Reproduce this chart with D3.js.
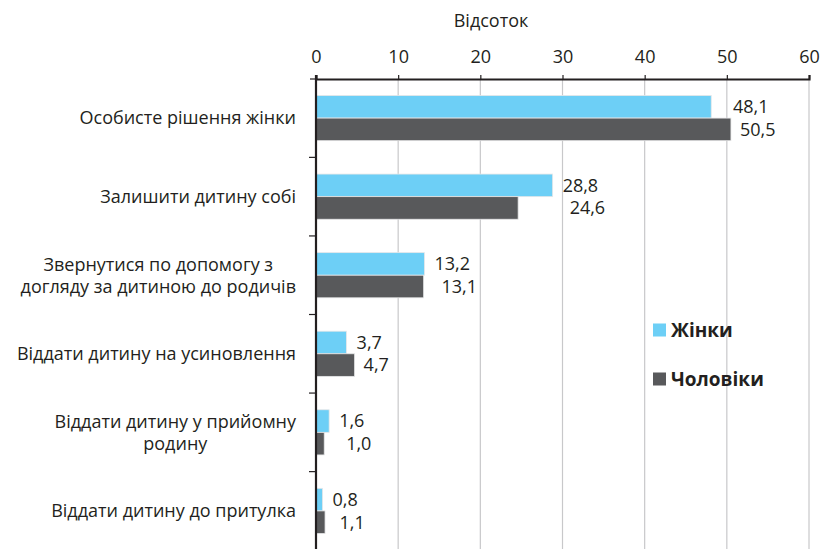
<!DOCTYPE html>
<html>
<head>
<meta charset="utf-8">
<script src="https://cdn.jsdelivr.net/npm/d3@7"></script>
<style>
  body { margin: 0; background: #fff; }
  text { font-family: "Open Sans", sans-serif; fill: #231f20; }
</style>
</head>
<body>
<div id="chart"></div>
<script>
const categories = [
  ["Особисте рішення жінки"],
  ["Залишити дитину собі"],
  ["Звернутися по допомогу з", "догляду за дитиною до родичів"],
  ["Віддати дитину на усиновлення"],
  ["Віддати дитину у прийомну", "родину"],
  ["Віддати дитину до притулка"]
];
const women = [48.1, 28.8, 13.2, 3.7, 1.6, 0.8];
const men = [50.5, 24.6, 13.1, 4.7, 1.0, 1.1];
const seriesNames = ["Жінки", "Чоловіки"];
const xTicks = [0, 10, 20, 30, 40, 50, 60];
const axisTitle = "Відсоток";

const W = 826, H = 549;
const colors = ["#6dcff6", "#58595b"];
const fs = 18;
const fmt = v => v.toFixed(1).replace(".", ",");

const svg = d3.select("#chart").append("svg")
  .attr("width", W).attr("height", H);

const x = d3.scaleLinear().domain([0, 60]).range([316, 809]);
const y = d3.scaleBand().domain(d3.range(categories.length))
  .range([79, 550]).paddingInner(0.425).paddingOuter(0.21);
const step = y.step();

// gridlines
svg.append("g").selectAll("line")
  .data(xTicks.slice(1))
  .join("line")
  .attr("x1", d => x(d)).attr("x2", d => x(d))
  .attr("y1", 79).attr("y2", H)
  .attr("stroke", "#c8c8ca").attr("stroke-width", 1.2);

// top axis
const xAxis = svg.append("g")
  .attr("transform", "translate(0,79)")
  .call(d3.axisTop(x).tickValues(xTicks).tickSize(4).tickPadding(12).tickFormat(d => d));
xAxis.select(".domain").attr("stroke", "#231f20").attr("stroke-width", 2.2);
xAxis.selectAll(".tick line").attr("stroke", "#231f20").attr("stroke-width", 1.2);
xAxis.selectAll(".tick text").attr("font-size", fs).attr("font-family", "Open Sans, sans-serif").attr("fill", "#231f20");

svg.append("text")
  .attr("x", x(21.3)).attr("y", 27)
  .attr("text-anchor", "middle").attr("font-size", fs)
  .text(axisTitle);

// bars
const groups = svg.append("g").selectAll("g")
  .data(categories.map((c, i) => ({ i, vals: [women[i], men[i]] })))
  .join("g");

const barH = y.bandwidth() / 2;
groups.selectAll("rect")
  .data(d => d.vals.map((v, k) => ({ v, k, i: d.i })))
  .join("rect")
  .attr("x", x(0))
  .attr("y", d => y(d.i) + d.k * barH)
  .attr("width", d => x(d.v) - x(0))
  .attr("height", barH)
  .attr("fill", d => colors[d.k])
  .attr("stroke", "#e6e7e8").attr("stroke-width", 0.8);

// value labels
groups.each(function (d) {
  const g = d3.select(this);
  const lx = Math.max(x(d.vals[0]) + 10, x(d.vals[1]) + 2);
  d.vals.forEach((v, k) => {
    g.append("text")
      .attr("x", lx + k * 7)
      .attr("y", y(d.i) + k * barH + barH / 2)
      .attr("dy", "0.35em")
      .attr("font-size", fs)
      .text(fmt(v));
  });
});

// left axis
svg.append("line")
  .attr("x1", x(0)).attr("x2", x(0)).attr("y1", 75).attr("y2", H)
  .attr("stroke", "#231f20").attr("stroke-width", 2.2);
svg.append("g").selectAll("line")
  .data(d3.range(1, categories.length))
  .join("line")
  .attr("x1", x(0) - 7).attr("x2", x(0))
  .attr("y1", i => y(i) - step * y.paddingInner() / 2)
  .attr("y2", i => y(i) - step * y.paddingInner() / 2)
  .attr("stroke", "#231f20").attr("stroke-width", 1.2);
svg.append("line")
  .attr("x1", x(0) - 6).attr("x2", x(0)).attr("y1", 79).attr("y2", 79)
  .attr("stroke", "#231f20").attr("stroke-width", 1.2);

// category labels
const labelRight = x(0) - 20;
categories.forEach((lines, i) => {
  const cy = y(i) + y.bandwidth() / 2;
  const t = svg.append("text").attr("font-size", fs).attr("text-anchor", "middle");
  const lh = 22;
  lines.forEach((ln, j) => {
    t.append("tspan")
      .attr("y", cy + (j - (lines.length - 1) / 2) * lh)
      .attr("dy", "0.35em")
      .text(ln);
  });
  const maxW = d3.max(t.selectAll("tspan").nodes(), n => n.getComputedTextLength());
  t.selectAll("tspan").attr("x", labelRight - maxW / 2);
});

// legend
const legend = svg.append("g").selectAll("g")
  .data(seriesNames)
  .join("g")
  .attr("transform", (d, i) => `translate(653,${330 + i * 49})`);
legend.append("rect")
  .attr("x", 0).attr("y", -6.5).attr("width", 13).attr("height", 13)
  .attr("fill", (d, i) => colors[i]);
legend.append("text")
  .attr("x", 18).attr("dy", "0.36em")
  .attr("font-size", 19).attr("font-weight", "bold")
  .text(d => d);
</script>
</body>
</html>
